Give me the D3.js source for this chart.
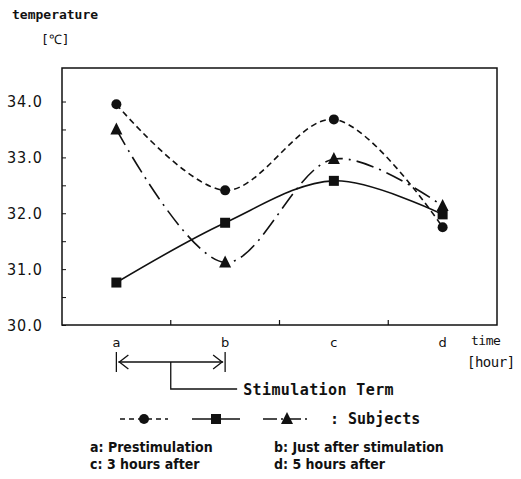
<!DOCTYPE html>
<html>
<head>
<meta charset="utf-8">
<script src="https://cdn.jsdelivr.net/npm/d3@7"></script>
<style>
  body { margin: 0; background: #fff; }
  text { fill: #111; }
</style>
</head>
<body>
<div id="chart"></div>
<script>
// data
var categories = ["a", "b", "c", "d"];
var circleValues = [33.95, 32.41, 33.68, 31.75];
var squareValues = [30.76, 31.83, 32.58, 31.98];
var triangleValues = [33.5, 31.12, 32.97, 32.13];
var yTicks = [30, 30.5, 31, 31.5, 32, 32.5, 33, 33.5, 34];
var notes = ["a: Prestimulation", "b: Just after stimulation", "c: 3 hours after", "d: 5 hours after"];

var margin = { top: 68, left: 62, right: 24, bottom: 154 },
    width = 521 - margin.left - margin.right,
    height = 479 - margin.top - margin.bottom;

var svg = d3.select("#chart")
    .append("svg")
    .attr("width", 521)
    .attr("height", 479)
    .append("g")
    .attr("transform", "translate(" + margin.left + "," + margin.top + ")");

var xPositionScale = d3.scaleBand()
  .domain(categories)
  .range([0, width])

var yPositionScale = d3.scaleLinear()
  .domain([30, 34.6])
  .range([height, 0])

var mono = "'DejaVu Sans Mono', monospace";
var narrow = "'Liberation Sans Narrow', 'DejaVu Sans Condensed', sans-serif";

function cx(i) {
  return xPositionScale(categories[i]) + xPositionScale.bandwidth() / 2
}

// frame
svg.append("rect")
  .attr("width", width)
  .attr("height", height)
  .attr("fill", "none")
  .attr("stroke", "#111")
  .attr("stroke-width", 1.5)

var yAxis = d3.axisLeft(yPositionScale)
  .tickValues(yTicks)
  .tickSize(-4)
  .tickPadding(19)
  .tickFormat(function(d) { return d % 1 === 0 ? d.toFixed(1) : "" })

svg.append("g")
  .attr("class", "axis y-axis")
  .call(yAxis)
  .call(function(g) { g.select(".domain").remove() })
  .selectAll("text")
  .attr("font-family", narrow)
  .attr("font-size", "16px")
  .attr("letter-spacing", "1px")
  .attr("fill", "#111")

svg.selectAll(".y-axis line").attr("stroke", "#111")

// bottom ticks at band boundaries
svg.selectAll(".xtick")
  .data(categories.slice(0, 3))
  .enter().append("line")
  .attr("class", "xtick")
  .attr("x1", function(d) { return xPositionScale(d) + xPositionScale.bandwidth() })
  .attr("x2", function(d) { return xPositionScale(d) + xPositionScale.bandwidth() })
  .attr("y1", height)
  .attr("y2", height - 5)
  .attr("stroke", "#111")
  .attr("stroke-width", 1.2)

var xAxis = d3.axisBottom(xPositionScale).tickSize(0).tickPadding(13)
svg.append("g")
  .attr("class", "axis x-axis")
  .attr("transform", "translate(0," + height + ")")
  .call(xAxis)
  .call(function(g) { g.select(".domain").remove() })
  .selectAll("text")
  .attr("font-family", "'DejaVu Sans', sans-serif")
  .attr("font-size", "13px")
  .attr("fill", "#111")

// series
var series = [
  { values: circleValues, dash: "6,4", marker: "circle" },
  { values: squareValues, dash: null, marker: "square" },
  { values: triangleValues, dash: "18,6,2,6", marker: "triangle" }
];

var line = d3.line()
  .x(function(d, i) { return cx(i) })
  .y(function(d) { return yPositionScale(d) })
  .curve(d3.curveCatmullRom.alpha(0.5))

function drawMarker(g, type, x, y) {
  if (type === "circle") {
    g.append("circle").attr("cx", x).attr("cy", y).attr("r", 5).attr("fill", "#111")
  } else if (type === "square") {
    g.append("rect").attr("x", x - 5).attr("y", y - 5).attr("width", 10).attr("height", 10).attr("fill", "#111")
  } else {
    g.append("path")
      .attr("d", "M" + x + "," + (y - 7) + "L" + (x + 6) + "," + (y + 5) + "L" + (x - 6) + "," + (y + 5) + "Z")
      .attr("fill", "#111")
  }
}

series.forEach(function(s) {
  svg.append("path")
    .datum(s.values)
    .attr("d", line)
    .attr("fill", "none")
    .attr("stroke", "#111")
    .attr("stroke-width", 1.6)
    .attr("stroke-dasharray", s.dash)
})
series.forEach(function(s) {
  s.values.forEach(function(v, i) {
    drawMarker(svg, s.marker, cx(i), yPositionScale(v))
  })
})

// axis titles
svg.append("text")
  .text("temperature")
  .attr("x", -50)
  .attr("y", -49)
  .attr("font-family", mono)
  .attr("font-weight", "bold")
  .attr("font-size", "13px")

svg.append("text")
  .text("[℃]")
  .attr("x", -21)
  .attr("y", -24)
  .attr("font-family", mono)
  .attr("font-size", "13px")

svg.append("text")
  .text("time")
  .attr("x", width - 26)
  .attr("y", height + 20)
  .attr("font-family", mono)
  .attr("font-size", "13px")
  .attr("letter-spacing", "-0.5px")

svg.append("text")
  .text("[hour]")
  .attr("x", width - 30)
  .attr("y", height + 42)
  .attr("font-family", mono)
  .attr("font-size", "14px")
  .attr("letter-spacing", "-0.5px")

// stimulation term bracket
var ax = cx(0), bx = cx(1), midx = xPositionScale("a") + xPositionScale.bandwidth();
var by = height + 37;
var br = svg.append("g").attr("stroke", "#111").attr("stroke-width", 1.3).attr("fill", "none")
br.append("line").attr("x1", ax).attr("x2", ax).attr("y1", by - 10).attr("y2", by + 10)
br.append("line").attr("x1", bx).attr("x2", bx).attr("y1", by - 10).attr("y2", by + 10)
br.append("line").attr("x1", ax + 2).attr("x2", bx - 2).attr("y1", by).attr("y2", by)
br.append("path").attr("d", "M" + (ax + 12) + "," + (by - 7) + "L" + (ax + 3) + "," + by + "L" + (ax + 12) + "," + (by + 7))
br.append("path").attr("d", "M" + (bx - 12) + "," + (by - 7) + "L" + (bx - 3) + "," + by + "L" + (bx - 12) + "," + (by + 7))
br.append("path").attr("d", "M" + midx + "," + by + "V" + (by + 27) + "H" + (bx + 12))

svg.append("text")
  .text("Stimulation Term")
  .attr("x", bx + 18)
  .attr("y", by + 33)
  .attr("font-family", mono)
  .attr("font-weight", "bold")
  .attr("font-size", "15px")
  .attr("letter-spacing", "0.4px")

// legend
var ly = height + 94;
var legendX = [58, 130, 201];
series.forEach(function(s, i) {
  svg.append("line")
    .attr("x1", legendX[i]).attr("x2", legendX[i] + 48)
    .attr("y1", ly).attr("y2", ly)
    .attr("stroke", "#111")
    .attr("stroke-width", 1.6)
    .attr("stroke-dasharray", s.dash === null ? null : (i === 0 ? "5,4" : "14,4,2,4"))
  drawMarker(svg, s.marker, legendX[i] + 24, ly)
})
svg.append("text")
  .text(": Subjects")
  .attr("x", 268)
  .attr("y", ly + 5)
  .attr("font-family", mono)
  .attr("font-weight", "bold")
  .attr("font-size", "15px")

// footnote
svg.selectAll(".note")
  .data(notes)
  .enter().append("text")
  .attr("class", "note")
  .text(function(d) { return d })
  .attr("x", function(d, i) { return i % 2 === 0 ? 28 : 212 })
  .attr("y", function(d, i) { return height + 127 + Math.floor(i / 2) * 17 })
  .attr("font-family", narrow)
  .attr("font-weight", "bold")
  .attr("font-size", "14px")
</script>
</body>
</html>
